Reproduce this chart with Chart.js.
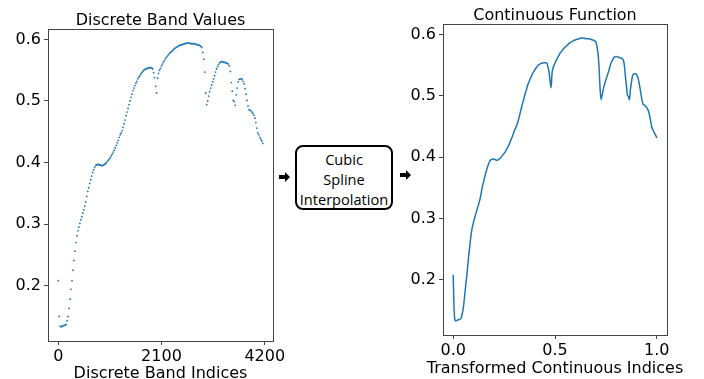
<!DOCTYPE html>
<html>
<head>
<meta charset="utf-8">
<script src="https://cdn.jsdelivr.net/npm/chart.js@4.4.1/dist/chart.umd.min.js"></script>
<style>
  body { margin: 0; background: #fff; width: 704px; height: 379px; position: relative; overflow: hidden; }
  canvas { position: absolute; top: 0; }
  #leftChart { left: 0; }
  #rightChart { left: 400px; }
  .caja {
    position: absolute; left: 295px; top: 145px; width: 94px; height: 59px;
    border: 2px solid #000; border-radius: 8px;
    font-family: "Open Sans", sans-serif; font-size: 14.6px; line-height: 20px;
    text-align: center; color: #000; padding-top: 2px; box-sizing: content-box;
  }
  .flecha { position: absolute; z-index: 2; }
</style>
</head>
<body>
<canvas id="leftChart" width="290" height="379"></canvas>
<canvas id="rightChart" width="304" height="379"></canvas>
<div class="caja">Cubic<br>Spline<br>Interpolation</div>
<svg class="flecha" style="left:279px;top:172px" width="12" height="10"><polygon points="0,3 6,3 6,0 11,5 6,10 6,7 0,7" fill="#000"/></svg>
<svg class="flecha" style="left:400px;top:170px" width="12" height="10"><polygon points="0,3 6,3 6,0 11,5 6,10 6,7 0,7" fill="#000"/></svg>

<script>
// valores (cada 20 bandas)
const bandStep = 20
const bandValues = [
  0.208, 0.150, 0.134, 0.133, 0.134, 0.135, 0.135, 0.136, 0.137, 0.143,
  0.150, 0.163, 0.178, 0.194, 0.208, 0.225, 0.241, 0.256, 0.270, 0.281,
  0.289, 0.295, 0.301, 0.307, 0.312, 0.318, 0.323, 0.329, 0.336, 0.345,
  0.353, 0.359, 0.366, 0.372, 0.378, 0.384, 0.388, 0.392, 0.395, 0.396,
  0.397, 0.397, 0.396, 0.396, 0.395, 0.395, 0.396, 0.397, 0.398, 0.400,
  0.402, 0.404, 0.406, 0.408, 0.411, 0.414, 0.417, 0.420, 0.424, 0.428,
  0.432, 0.436, 0.441, 0.445, 0.448, 0.452, 0.457, 0.463, 0.469, 0.476,
  0.482, 0.488, 0.494, 0.500, 0.506, 0.511, 0.517, 0.521, 0.525, 0.529,
  0.532, 0.536, 0.539, 0.541, 0.544, 0.546, 0.548, 0.550, 0.551, 0.552,
  0.553, 0.553, 0.554, 0.554, 0.554, 0.554, 0.552, 0.546, 0.538, 0.524,
  0.513, 0.537, 0.545, 0.550, 0.553, 0.557, 0.560, 0.563, 0.566, 0.569,
  0.571, 0.573, 0.575, 0.577, 0.579, 0.580, 0.582, 0.583, 0.585, 0.586,
  0.587, 0.588, 0.589, 0.590, 0.591, 0.591, 0.592, 0.592, 0.593, 0.593,
  0.594, 0.594, 0.594, 0.594, 0.594, 0.593, 0.593, 0.593, 0.593, 0.593,
  0.592, 0.592, 0.591, 0.591, 0.590, 0.589, 0.587, 0.579, 0.568, 0.547,
  0.513, 0.494, 0.500, 0.508, 0.515, 0.521, 0.526, 0.531, 0.536, 0.541,
  0.547, 0.552, 0.556, 0.559, 0.562, 0.563, 0.564, 0.564, 0.563, 0.563,
  0.562, 0.562, 0.561, 0.560, 0.557, 0.548, 0.530, 0.516, 0.501, 0.499,
  0.493, 0.510, 0.521, 0.531, 0.535, 0.536, 0.536, 0.535, 0.532, 0.528,
  0.520, 0.511, 0.501, 0.492, 0.486, 0.485, 0.484, 0.482, 0.480, 0.477,
  0.472, 0.465, 0.456, 0.448, 0.445, 0.441, 0.438, 0.435, 0.431
]
const yTicks = [0.2, 0.3, 0.4, 0.5, 0.6]
const bandTicks = [0, 2100, 4200]
const continuousTicks = [0.0, 0.5, 1.0]

const azul = '#1f77b4'
const fuente = 'DejaVu Sans'

const bandIndices = bandValues.map((_, i) => i * bandStep)
const maxIndex = bandIndices[bandIndices.length - 1]

// marco, titulo y etiqueta del eje x estilo matplotlib
const marcoPlugin = {
  id: 'marco',
  afterDraw(chart, args, opts) {
    const { ctx, chartArea: a } = chart
    const cx = (a.left + a.right) / 2
    ctx.save()
    ctx.strokeStyle = '#444'
    ctx.lineWidth = 1
    ctx.strokeRect(Math.round(a.left) + 0.5, Math.round(a.top) + 0.5, Math.round(a.right - a.left), Math.round(a.bottom - a.top))
    ctx.fillStyle = '#000'
    ctx.font = '16px "' + fuente + '"'
    ctx.textAlign = 'center'
    ctx.textBaseline = 'alphabetic'
    ctx.fillText(opts.text, cx, a.top - 4)
    ctx.fillText(opts.xlabel, cx, opts.xlabelY)
    ctx.restore()
  }
}

function ejeX(min, max, ticks, height, fmt) {
  return {
    type: 'linear', min: min, max: max,
    afterBuildTicks: s => { s.ticks = ticks.map(v => ({ value: v })) },
    afterFit: s => { s.height = height },
    border: { display: false },
    grid: { drawOnChartArea: false, drawTicks: true, tickLength: 4, color: '#444' },
    ticks: { color: '#000', padding: 2, maxRotation: 0, font: { family: fuente, size: 16 }, callback: fmt }
  }
}

function ejeY(width) {
  return {
    min: 0.110, max: 0.617,
    afterBuildTicks: s => { s.ticks = yTicks.map(v => ({ value: v })) },
    afterFit: s => { s.width = width },
    border: { display: false },
    grid: { drawOnChartArea: false, drawTicks: true, tickLength: 4, color: '#444' },
    ticks: { color: '#000', padding: 3, font: { family: fuente, size: 16 }, callback: v => v.toFixed(1) }
  }
}

new Chart(document.getElementById('leftChart'), {
  type: 'scatter',
  data: {
    datasets: [{
      data: bandIndices.map((x, i) => ({ x: x, y: bandValues[i] })),
      backgroundColor: azul,
      borderWidth: 0,
      pointRadius: 0.9
    }]
  },
  options: {
    responsive: false, animation: false, devicePixelRatio: 1,
    layout: { padding: { top: 29, right: 17, bottom: 0, left: 0 } },
    plugins: {
      legend: { display: false }, tooltip: { enabled: false },
      marco: { text: 'Discrete Band Values', xlabel: 'Discrete Band Indices', xlabelY: 378 }
    },
    scales: {
      x: ejeX(-208, 4368, bandTicks, 38, v => String(v)),
      y: ejeY(48)
    }
  },
  plugins: [marcoPlugin]
})

new Chart(document.getElementById('rightChart'), {
  type: 'line',
  data: {
    datasets: [{
      data: bandIndices.map((x, i) => ({ x: x / maxIndex, y: bandValues[i] })),
      borderColor: azul,
      borderWidth: 1.5,
      pointRadius: 0,
      cubicInterpolationMode: 'monotone',
      fill: false
    }]
  },
  options: {
    responsive: false, animation: false, devicePixelRatio: 1,
    layout: { padding: { top: 24, right: 37, bottom: 0, left: 0 } },
    plugins: {
      legend: { display: false }, tooltip: { enabled: false },
      marco: { text: 'Continuous Function', xlabel: 'Transformed Continuous Indices', xlabelY: 373 }
    },
    scales: {
      x: ejeX(-0.05, 1.05, continuousTicks, 44, v => v.toFixed(1)),
      y: ejeY(43)
    }
  },
  plugins: [marcoPlugin]
})
</script>
</body>
</html>
